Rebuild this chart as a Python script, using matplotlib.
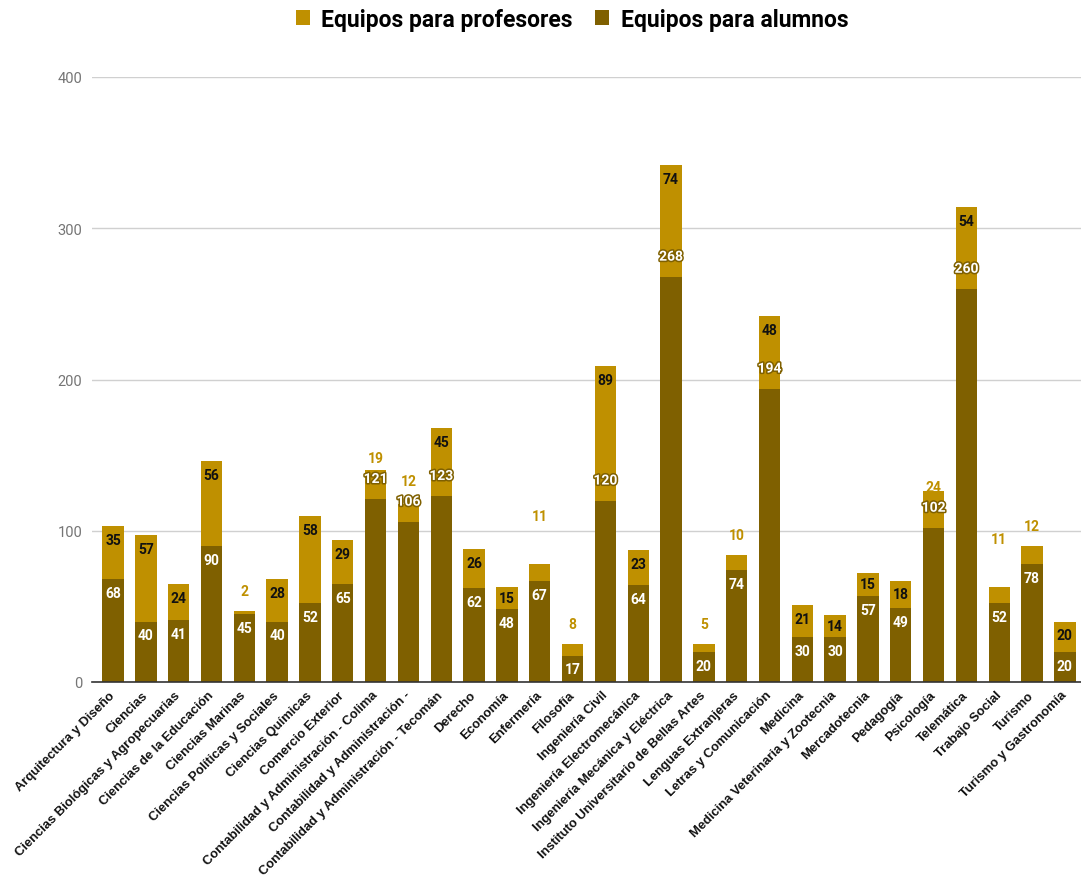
import matplotlib
matplotlib.use("Agg")
import matplotlib.pyplot as plt
import matplotlib.patheffects as pe
from matplotlib.patches import Patch
import numpy as np

categorias = [
    "Arquitectura y Diseño",
    "Ciencias",
    "Ciencias Biológicas y Agropecuarias",
    "Ciencias de la Educación",
    "Ciencias Marinas",
    "Ciencias Políticas y Sociales",
    "Ciencias Químicas",
    "Comercio Exterior",
    "Contabilidad y Administración - Colima",
    "Contabilidad y Administración -",
    "Contabilidad y Administración - Tecomán",
    "Derecho",
    "Economía",
    "Enfermería",
    "Filosofía",
    "Ingeniería Civil",
    "Ingeniería Electromecánica",
    "Ingeniería Mecánica y Eléctrica",
    "Instituto Universitario de Bellas Artes",
    "Lenguas Extranjeras",
    "Letras y Comunicación",
    "Medicina",
    "Medicina Veterinaria y Zootecnia",
    "Mercadotecnia",
    "Pedagogía",
    "Psicología",
    "Telemática",
    "Trabajo Social",
    "Turismo",
    "Turismo y Gastronomía",
]

alumnos = [68, 40, 41, 90, 45, 40, 52, 65, 121, 106, 123, 62, 48, 67, 17,
           120, 64, 268, 20, 74, 194, 30, 30, 57, 49, 102, 260, 52, 78, 20]

profesores = [35, 57, 24, 56, 2, 28, 58, 29, 19, 12, 45, 26, 15, 11, 8,
              89, 23, 74, 5, 10, 48, 21, 14, 15, 18, 24, 54, 11, 12, 20]

serie_profesores = "Equipos para profesores"
serie_alumnos = "Equipos para alumnos"
y_ticks = [0, 100, 200, 300, 400]

COLOR_PROF = "#BF9000"
COLOR_ALUM = "#7F6000"

# extra lift (pixels) for a few outside labels
elevacion_extra = {"Enfermería": 28, "Trabajo Social": 28}

W, H, DPI = 1081, 895, 100
fig = plt.figure(figsize=(W / DPI, H / DPI), dpi=DPI)
left, right, bottom, top = 92, 1081, 683, 78
ax = fig.add_axes([left / W, 1 - bottom / H, (right - left) / W, (bottom - top) / H])

x = np.arange(len(categorias))
ancho = 0.65
ax.bar(x, alumnos, ancho, color=COLOR_ALUM, zorder=2, linewidth=0)
ax.bar(x, profesores, ancho, bottom=alumnos, color=COLOR_PROF, zorder=2, linewidth=0)

ax.set_xlim(-0.64, 29.49)
ax.set_ylim(0, 400)
ax.set_yticks(y_ticks)
ax.set_yticklabels([str(t) for t in y_ticks], fontfamily="Roboto", fontsize=10.5, color="#757575")
ax.tick_params(axis="y", length=0, pad=7)
ax.yaxis.grid(True, color="#d0d0d0", linewidth=1, zorder=0)
ax.set_axisbelow(True)
for s in ["top", "right", "left"]:
    ax.spines[s].set_visible(False)
ax.spines["bottom"].set_color("#333333")
ax.spines["bottom"].set_linewidth(1.2)
ax.spines["bottom"].set_zorder(3)

ax.set_xticks(x)
ax.set_xticklabels(categorias, rotation=45, ha="right", va="center",
                   rotation_mode="anchor", fontfamily="Liberation Sans",
                   fontweight="bold", fontsize=9.4, color="#111111")
ax.tick_params(axis="x", length=0, pad=8)

PX = (bottom - top) / 400.0   # pixels per unit
PT = 72.0 / DPI               # points per pixel
num_font = dict(fontfamily="Roboto", fontweight="bold", fontsize=10, ha="center", va="center")

for i, (cat, a, p) in enumerate(zip(categorias, alumnos, profesores)):
    total = a + p
    # alumnos label
    alum_fuera = len(str(a)) >= 3
    if alum_fuera:
        ax.annotate(str(a), (i, a), xytext=(0, 20 * PT), textcoords="offset points",
                    color="white", zorder=5,
                    path_effects=[pe.withStroke(linewidth=2.2, foreground=COLOR_ALUM)],
                    **num_font)
    else:
        off = min(14, a * PX / 2)
        ax.annotate(str(a), (i, a), xytext=(0, -off * PT), textcoords="offset points",
                    color="white", zorder=5, **num_font)

    # profesores label
    disponible = p * PX - (30 if alum_fuera else 0)
    if disponible >= 20:
        off = min(14, disponible / 2)
        ax.annotate(str(p), (i, total), xytext=(0, -off * PT), textcoords="offset points",
                    color="#111111", zorder=5, **num_font)
    else:
        if alum_fuera:
            base, off = a, 41
        else:
            base, off = total, 20
        off += elevacion_extra.get(cat, 0)
        ax.annotate(str(p), (i, base), xytext=(0, off * PT), textcoords="offset points",
                    color=COLOR_PROF, zorder=5, **num_font)

handles = [Patch(facecolor=COLOR_PROF, edgecolor="none", label=serie_profesores),
           Patch(facecolor=COLOR_ALUM, edgecolor="none", label=serie_alumnos)]
fig.legend(handles=handles, loc="center", bbox_to_anchor=(572 / W, 1 - 20 / H),
           ncol=2, frameon=False, handlelength=0.6, handleheight=0.6,
           handletextpad=0.5, columnspacing=1.0,
           prop=dict(family="Roboto", weight="bold", size=16.5))

fig.savefig("out.png", dpi=DPI)
